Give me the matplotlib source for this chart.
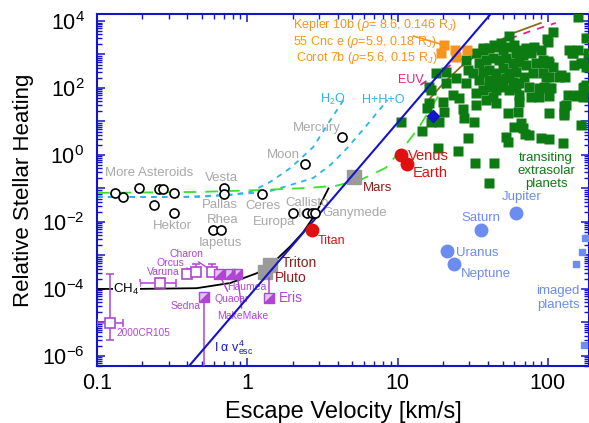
import matplotlib
matplotlib.use('Agg')
import matplotlib.pyplot as plt
import numpy as np
from matplotlib.ticker import LogLocator, FuncFormatter, NullFormatter

plt.rcParams['font.family'] = ['Liberation Sans', 'DejaVu Sans']
plt.rcParams['mathtext.fontset'] = 'custom'
plt.rcParams['mathtext.rm'] = 'Liberation Sans'
plt.rcParams['mathtext.it'] = 'Liberation Sans:italic'
plt.rcParams['mathtext.bf'] = 'Liberation Sans:bold'

# --- Daten (Fluchtgeschwindigkeit km/s, relative Einstrahlung) ---
# kleine Koerper / Monde (offene Kreise)
small_v = [0.132, 0.149, 0.19, 0.26, 0.275, 0.326, 0.24, 0.326, 0.70, 0.70,
           1.26, 0.59, 0.67, 2.03, 2.51, 2.71, 2.84, 2.44, 4.3]
small_I = [0.073, 0.056, 0.10, 0.097, 0.097, 0.073, 0.032, 0.0186, 0.10, 0.069,
           0.069, 0.0058, 0.0058, 0.0186, 0.0186, 0.0186, 0.0186, 0.54, 3.44]

# Atmosphaeren-Koerper
red_v = [10.5, 11.5, 2.71]          # Venus, Earth, Titan
red_I = [1.0, 0.54, 0.0058]
gray_v = [5.1, 1.42, 1.32]          # Mars, Triton, Pluto
gray_I = [0.22, 5.2e-4, 3.2e-4]

# Riesenplaneten
giant_v = [61.2, 35.8, 21.5, 23.6]  # Jupiter, Saturn, Uranus, Neptune
giant_I = [0.0186, 0.00577, 1.36e-3, 5.6e-4]
imaged_v = [176, 169, 154, 174]
imaged_I = [3.3e-3, 1.27e-3, 5.6e-4, 2.1e-6]

# TNOs
tno_v = [0.122, 0.263, 0.398, 0.457, 0.585]
tno_I = [9.7e-6, 1.5e-4, 2.8e-4, 3.2e-4, 3.2e-4]
tno_vlo = [0.1, 0.194, 0.398, 0.457, 0.585]
tno_vhi = [0.149, 0.336, 0.398, 0.457, 0.585]
tno_Ilo = [3.0e-6, 1.5e-4, 2.8e-4, 3.2e-4, 3.2e-4]
tno_Ihi = [2.8e-4, 1.5e-4, 2.8e-4, 5.6e-4, 5.6e-4]
half_v = [0.65, 0.77, 0.857, 0.516, 1.40]   # Quaoar, Haumea, MakeMake, Sedna, Eris
half_I = [2.8e-4, 2.8e-4, 2.8e-4, 5.8e-5, 5.4e-5]
bar_v = [0.516, 1.40]
bar_lo = [3e-7, 5.4e-5]
bar_hi = [5.8e-5, 2.3e-4]

# heisse Supererden
hot_v = [20.3, 24.0, 28.8, 19.4, 24.4]
hot_I = [1920, 1360, 1360, 1110, 841]
gj_v = [17.1]
gj_I = [14.6]

# transitierende Exoplaneten
exo_v = [10.5, 14.5, 18.5, 25.1, 29.3, 32.6, 43.7, 52.5, 54.1, 74.6, 102, 126,
         59.3, 66.1, 68.1, 71.0, 54.1, 63.1, 102, 128, 128, 166, 171, 174, 158,
         136, 102, 87.1, 77.1, 64.1, 64.1, 45.0, 43.0, 38.6, 33.1, 32.1, 27.5,
         27.1, 23.3, 25.5, 20.3, 18.8, 16.6, 16.1, 20.0, 16.6, 17.9, 20.9, 24.4,
         20.9, 28.4, 29.3, 28.4, 33.1, 36.9, 40.4, 45.0, 50.1, 55.0, 61.2, 74.6,
         87.1, 69.2, 79.4, 92.7, 102, 118, 138, 158, 166, 149, 92.7, 83.2, 71.3,
         100, 33.1, 36.9, 40.4, 45.0, 50.1, 55.0, 61.2, 68.1, 34.7, 38.6, 43.0,
         47.1, 52.5, 58.5, 64.1, 71.3, 36.9, 40.4, 45.0, 50.1, 55.0, 61.2, 40.4,
         47.1, 52.5, 58.5, 64.1, 43.0, 34.7, 31.6, 55.0, 98.4, 108, 158, 147,
         185, 100, 43.7, 48.6, 36.9, 66.1, 77.1, 89.8, 80.7, 59.3, 40.4, 89.8,
         179, 145, 94.0, 102, 108, 97.0, 122, 130, 171, 179, 94.0, 105, 102,
         154, 171, 179, 132, 128, 16.1, 15.8]
exo_I = [9.66, 5.2, 1.62, 1.32, 3.21, 0.577, 0.577, 3.44, 2.44, 3.95, 3.0, 2.28,
         6.85, 9.02, 6.4, 4.3, 17.9, 19.2, 17.9, 17.9, 29, 7.87, 53.8, 107, 61.8,
         61.8, 100, 53.8, 53.8, 61.8, 38.2, 35.6, 53.8, 43.9, 31.1, 9.66, 12.7,
         23.6, 61.8, 50.2, 19.2, 9.66, 9.66, 35.6, 38.2, 87.1, 280, 300, 199,
         141, 141, 344, 685, 71, 87.1, 107, 87.1, 107, 87.1, 100, 107,
         100, 213, 280, 280, 213, 213, 1360, 1360, 557, 486, 685, 557, 1560,
         2360, 1110, 1360, 1560, 1670, 1360, 1670, 1110, 966, 557, 685, 787,
         685, 787, 557, 597, 486, 300, 344, 280, 395, 280, 300, 173,
         173, 199, 151, 141, 141, 173, 280, 3570, 2900, 4700, 13150, 1110,
         1110, 640, 1920, 2200, 1560, 1360, 1110, 1360, 1670, 1920, 0.146, 3.21,
         3110, 1110, 557, 557, 424, 213, 244, 213, 557, 424, 107, 100, 57.7,
         57.7, 100, 123, 31.1, 15.6, 107, 25.3]

# Kurven
shore_v = [0.41, 41.7]
shore_I = [5e-7, 1.62e4]
ch4_v = [0.1, 0.185, 0.46, 0.77, 1.17, 1.58, 1.94, 2.36, 2.84, 3.47]
ch4_I = [1e-4, 1e-4, 1.05e-4, 1.5e-4, 3.0e-4, 7.9e-4, 1.9e-3, 5.0e-3, 1.7e-2, 0.10]
hesc_v = [0.1, 0.486, 1.26, 2.51, 3.86, 5.67, 8.32, 11.3, 13.8, 19.4, 21.9]
hesc_I = [0.0735, 0.0787, 0.090, 0.1035, 0.119, 0.18, 0.41, 1.99, 6.4, 76, 173]
h2o_v = [0.1, 0.357, 0.77, 1.05, 1.42, 1.94, 2.75, 3.41, 4.5]
h2o_I = [0.0557, 0.0557, 0.064, 0.0787, 0.156, 0.41, 1.73, 7.87, 53.8]
hho_v = [0.1, 0.486, 1.36, 2.26, 2.75, 3.57, 4.5, 6.03, 8.58]
hho_I = [0.0557, 0.0557, 0.0787, 0.156, 0.206, 0.50, 1.41, 6.4, 43.9]
euv_v = [14.2, 22.6, 33.1, 48.6, 77.1, 113]
euv_I = [123, 486, 1190, 2360, 5020, 8710]
brown_v = [16.1, 20.3, 26.3, 39.8, 59.3, 89.8]
brown_I = [43.9, 141, 424, 1670, 4390, 8710]

# Farben
BLUE = '#1414c8'
GRAY_T = '#a8a8a8'
RED = '#e01010'
DARKRED = '#8b1c1c'
PURPLE = '#b044d4'
LBLUE = '#6b8cf0'
GREEN = '#0b7b12'
ORANGE = '#f7941d'
CYAN = '#29b5e8'
LIME = '#3ae02a'
PINK = '#e8208a'
BROWN = '#8b6a1a'

fig = plt.figure(figsize=(5.89, 4.23), dpi=100)
ax = fig.add_axes([0.1647, 0.1348, 0.8353, 0.8322])
ax.set_xscale('log')
ax.set_yscale('log')

# Linien
ax.plot(h2o_v, h2o_I, ls=(0, (3, 3)), color=CYAN, lw=1.3, zorder=2)
ax.plot(hho_v, hho_I, ls=(0, (3, 3)), color=CYAN, lw=1.3, zorder=2)
ax.plot(hesc_v, hesc_I, ls=(0, (7, 5)), color=LIME, lw=1.3, zorder=2)
ax.plot(ch4_v, ch4_I, color='black', lw=1.3, zorder=2)
ax.plot(euv_v, euv_I, ls=(0, (4, 4)), color=PINK, lw=1.3, zorder=2)
ax.plot(brown_v, brown_I, color=BROWN, lw=1.3, zorder=2)
ax.plot(shore_v, shore_I, color=BLUE, lw=1.5, zorder=4)

# Exoplaneten
ax.plot(exo_v, exo_I, 's', color=GREEN, ms=7.3, mec='none', zorder=3)
ax.plot(hot_v, hot_I, 's', color=ORANGE, ms=6.5, mec='none', zorder=3)
ax.plot(gj_v, gj_I, 'D', color=BLUE, ms=7, mec='none', zorder=5)

# Sonnensystem
ax.plot(small_v, small_I, 'o', mfc='white', mec='black', mew=1.2, ms=6.5, zorder=5)
ax.plot(red_v, red_I, 'o', color=RED, ms=9, zorder=5)
ax.plot(gray_v, gray_I, 's', color='#9a9a9a', ms=9.5, zorder=3)
ax.plot(giant_v, giant_I, 'o', color=LBLUE, ms=9, zorder=5)
ax.plot(imaged_v, imaged_I, 's', color=LBLUE, ms=4.5, zorder=5)

# TNOs
tno_v_arr = np.array(tno_v)
tno_I_arr = np.array(tno_I)
xerr = [tno_v_arr - np.array(tno_vlo), np.array(tno_vhi) - tno_v_arr]
yerr = [tno_I_arr - np.array(tno_Ilo), np.array(tno_Ihi) - tno_I_arr]
ax.errorbar(tno_v, tno_I, xerr=xerr, yerr=yerr, fmt='none', ecolor=PURPLE,
            elinewidth=1.1, capsize=3, capthick=1.1, zorder=3)
ax.vlines(bar_v, bar_lo, bar_hi, color=PURPLE, lw=1.1, zorder=3)
ax.plot(tno_v, tno_I, 's', mfc='white', mec=PURPLE, mew=1.2, ms=6.5, zorder=6)
ax.plot(half_v, half_I, 's', mfc='#e3c3f0', mec=PURPLE, mew=1.0, ms=6.5, zorder=6)
tri = [(-1, -1), (1, -1), (1, 1), (-1, -1)]
ax.plot(half_v, half_I, ls='none', marker=tri, color=PURPLE, ms=6.5, zorder=7)

# Achsen
ax.set_xlim(0.1, 188)
ax.set_ylim(5e-7, 1.62e4)
ax.set_xticks([0.1, 1, 10, 100])
ax.set_xticklabels(['0.1', '1', '10', '100'])
ax.xaxis.set_minor_locator(LogLocator(base=10, subs=np.arange(2, 10), numticks=30))
ax.xaxis.set_minor_formatter(NullFormatter())
ax.yaxis.set_major_locator(LogLocator(base=10, numticks=30))
ax.yaxis.set_minor_locator(LogLocator(base=10, subs=np.arange(2, 10), numticks=30))
ax.yaxis.set_minor_formatter(NullFormatter())


def ylab(y, pos):
    e = int(round(np.log10(y)))
    return r'$10^{%d}$' % e if e % 2 == 0 else ''


ax.yaxis.set_major_formatter(FuncFormatter(ylab))
ax.tick_params(which='both', direction='in', top=True, right=True, color=BLUE,
               labelsize=15.5, labelcolor='black')
ax.tick_params(which='major', length=6, width=1.1)
ax.tick_params(which='minor', length=3.5, width=1.0)
ax.tick_params(axis='x', which='major', pad=5)
ax.tick_params(axis='y', which='major', pad=9)
for s in ax.spines.values():
    s.set_color(BLUE)
    s.set_linewidth(1.5)

ax.set_xlabel('Escape Velocity [km/s]', fontsize=17)
ax.set_ylabel('Relative Stellar Heating', fontsize=16)
ax.xaxis.set_label_coords(0.5, -0.10)
ax.yaxis.set_label_coords(-0.128, 0.5)

# Beschriftungen
def lab(fx, fy, s, c, size=9.5, ha='left', **kw):
    ax.text(fx, fy, s, color=c, fontsize=size, ha=ha, va='center',
            transform=ax.transAxes, **kw)


lab(0.016, 0.548, 'More Asteroids', GRAY_T)
lab(0.254, 0.534, 'Vesta', GRAY_T, ha='center')
lab(0.250, 0.457, 'Pallas', GRAY_T, ha='center')
lab(0.256, 0.415, 'Rhea', GRAY_T, ha='center')
lab(0.250, 0.349, 'Iapetus', GRAY_T, ha='center')
lab(0.154, 0.398, 'Hektor', GRAY_T, ha='center')
lab(0.337, 0.455, 'Ceres', GRAY_T, ha='center')
lab(0.360, 0.409, 'Europa', GRAY_T, ha='center')
lab(0.427, 0.463, 'Callisto', GRAY_T, ha='center')
lab(0.419, 0.432, 'Io', GRAY_T, ha='center')
lab(0.459, 0.435, 'Ganymede', GRAY_T)
lab(0.378, 0.599, 'Moon', GRAY_T, ha='center')
lab(0.447, 0.676, 'Mercury', GRAY_T, ha='center')

lab(0.632, 0.597, 'Venus', RED, size=10.5)
lab(0.642, 0.548, 'Earth', RED, size=10.5)
lab(0.449, 0.355, 'Titan', RED, size=9)
lab(0.541, 0.506, 'Mars', DARKRED, size=9.5)
lab(0.376, 0.293, 'Triton', DARKRED, size=10)
lab(0.362, 0.250, 'Pluto', DARKRED, size=10)

lab(0.370, 0.193, 'Eris', PURPLE, size=10)
lab(0.264, 0.224, 'Haumea', PURPLE, size=7.5)
lab(0.150, 0.170, 'Sedna', PURPLE, size=7.5)
lab(0.039, 0.094, '2000CR105', PURPLE, size=7.2)
ap = dict(arrowstyle='-', color=PURPLE, lw=1.0, shrinkA=0, shrinkB=3)
ax.annotate('Charon', xy=(0.585, 3.4e-4), xytext=(0.148, 0.318), textcoords='axes fraction',
            color=PURPLE, fontsize=7.5, va='center', arrowprops=ap)
ax.annotate('Orcus', xy=(0.457, 3.4e-4), xytext=(0.120, 0.293), textcoords='axes fraction',
            color=PURPLE, fontsize=7.5, va='center', arrowprops=ap)
ax.annotate('Varuna', xy=(0.398, 2.8e-4), xytext=(0.102, 0.267), textcoords='axes fraction',
            color=PURPLE, fontsize=7.5, va='center', arrowprops=ap)
ax.annotate('Quaoar', xy=(0.65, 2.8e-4), xytext=(0.238, 0.190), textcoords='axes fraction',
            color=PURPLE, fontsize=7.5, va='center', arrowprops=ap)
ax.annotate('MakeMake', xy=(0.857, 2.8e-4), xytext=(0.244, 0.142), textcoords='axes fraction',
            color=PURPLE, fontsize=7.5, va='center', arrowprops=ap)

lab(0.033, 0.216, r'CH$_4$', 'black', size=9.5,
    bbox=dict(fc='white', ec='none', pad=0.5))

lab(0.823, 0.480, 'Jupiter', LBLUE, size=9.5)
lab(0.740, 0.420, 'Saturn', LBLUE, size=9.5)
lab(0.730, 0.321, 'Uranus', LBLUE, size=9.5)
lab(0.740, 0.261, 'Neptune', LBLUE, size=9.5)
lab(0.937, 0.193, 'imaged\nplanets', LBLUE, size=9.5, ha='center', linespacing=1.2)
lab(0.913, 0.554, 'transiting\nextrasolar\nplanets', GREEN, size=9.5, ha='center',
    linespacing=1.15)

lab(0.453, 0.756, r'H$_2$O', CYAN, size=9)
lab(0.539, 0.756, 'H+H+O', CYAN, size=9)
lab(0.612, 0.8125, 'EUV', PINK, size=9)
lab(0.238, 0.051, r'$\mathrm{I\ \alpha\ v^{4}_{esc}}$', BLUE, size=9)

op = dict(arrowstyle='-', color=ORANGE, lw=1.2, shrinkA=1, shrinkB=2)
ax.annotate(r'Kepler 10b ($\rho$= 8.6, 0.146 R$_J$)', xy=(20.3, 1920), xytext=(0.398, 0.969),
            textcoords='axes fraction', color=ORANGE, fontsize=9, va='center', arrowprops=op)
ax.annotate(r'55 Cnc e ($\rho$=5.9, 0.18 R$_J$)', xy=(20.3, 1920), xytext=(0.398, 0.920),
            textcoords='axes fraction', color=ORANGE, fontsize=9, va='center', arrowprops=op)
ax.annotate(r'Corot 7b ($\rho$=5.6, 0.15 R$_J$)', xy=(19.4, 1110), xytext=(0.404, 0.875),
            textcoords='axes fraction', color=ORANGE, fontsize=9, va='center', arrowprops=op)

fig.savefig('out.png', dpi=100)
